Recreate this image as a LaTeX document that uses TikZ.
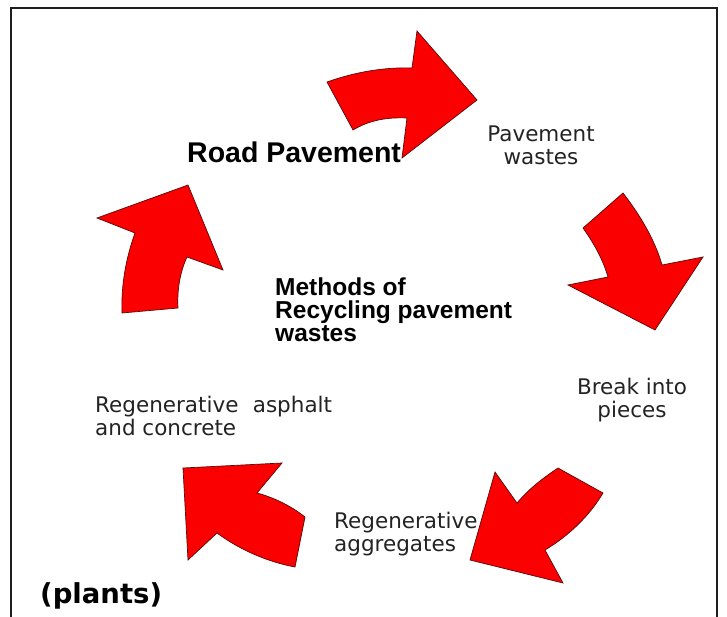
\documentclass[tikz,border=0pt]{standalone}
\usepackage{fontspec}
\setmainfont{DejaVu Sans}
\newfontfamily\arialfont{Liberation Sans}
\usepackage{tikz}
\usetikzlibrary{
  calc,
  positioning
}
\definecolor{loopred}{RGB}{250,0,0}
\definecolor{loopedge}{RGB}{90,10,10}
\definecolor{labelgray}{RGB}{35,35,35}
\definecolor{framegray}{RGB}{30,30,30}
\tikzset{
  cyclearrow/.style={fill=loopred,draw=loopedge,line width=0.7pt,
    line join=miter},
  steptext/.style={font=\fontsize{21.5}{23}\selectfont,text=labelgray,
    inner sep=0pt},
  headtext/.style={font=\arialfont\bfseries\fontsize{28.5}{30}\selectfont,
    text=black,inner sep=0pt},
  coretext/.style={font=\arialfont\bfseries\fontsize{24.5}{23}\selectfont,
    text=black,inner sep=0pt,align=left},
  notetext/.style={font=\bfseries\fontsize{27.5}{30}\selectfont,
    text=black,inner sep=0pt},
  frameline/.style={draw=framegray,line width=2pt}
}

\begin{document}
\begin{tikzpicture}[x=1pt,y=-1pt]
  \useasboundingbox (0,0) rectangle (727,617);
  \draw[frameline] (11,617) -- (11,8) -- (717,8) -- (717,617);

  % the five curved arrows of the cycle
  \draw[cyclearrow] (327,82) .. controls (355,72) and (385,67) .. (412,68)
    -- (417,31) -- (477,100) -- (402,158) -- (407,118)
    .. controls (385,117) and (368,121) .. (353,130) -- cycle;
  \draw[cyclearrow] (623,193) .. controls (640,215) and (655,240) .. (662,265)
    -- (703,257) -- (655,330) -- (568,285) -- (608,277)
    .. controls (603,260) and (595,245) .. (583,228) -- cycle;
  \draw[cyclearrow] (558,468) .. controls (540,480) and (528,490) .. (517,503)
    -- (495,472) -- (470,560) -- (563,583) -- (545,550)
    .. controls (570,535) and (590,515) .. (603,493) -- cycle;
  \draw[cyclearrow] (305,517) .. controls (290,505) and (272,497) .. (257,493)
    -- (282,463) -- (183,468) -- (188,560) -- (217,533)
    .. controls (240,550) and (268,562) .. (295,567) -- cycle;
  \draw[cyclearrow] (122,313) .. controls (121,285) and (126,258) .. (135,233)
    -- (97,218) -- (188,185) -- (223,270) -- (187,257)
    .. controls (180,272) and (177,290) .. (178,308) -- cycle;

  % labels; multi-line nodes sit on the baseline of their last line
  \node[headtext,anchor=base west] (road) at (187,163) {Road Pavement};
  \node[steptext,align=center,anchor=base] (wastes) at (541,165)
    {Pavement\\wastes};
  \node[coretext,anchor=base west] (methods) at (275,341)
    {Methods of\\Recycling pavement\\wastes};
  \node[steptext,align=center,anchor=base] (pieces) at (632,417)
    {Break into\\pieces};
  \node[steptext,align=left,anchor=base west] (aggregates) at (334,551)
    {Regenerative\\aggregates};
  \node[steptext,align=left,anchor=base west] (asphalt) at (95,435)
    {Regenerative\hspace{.35em} asphalt\\and concrete};
  \node[notetext,anchor=base west] (plants) at (40,603) {(plants)};
\end{tikzpicture}
\end{document}
